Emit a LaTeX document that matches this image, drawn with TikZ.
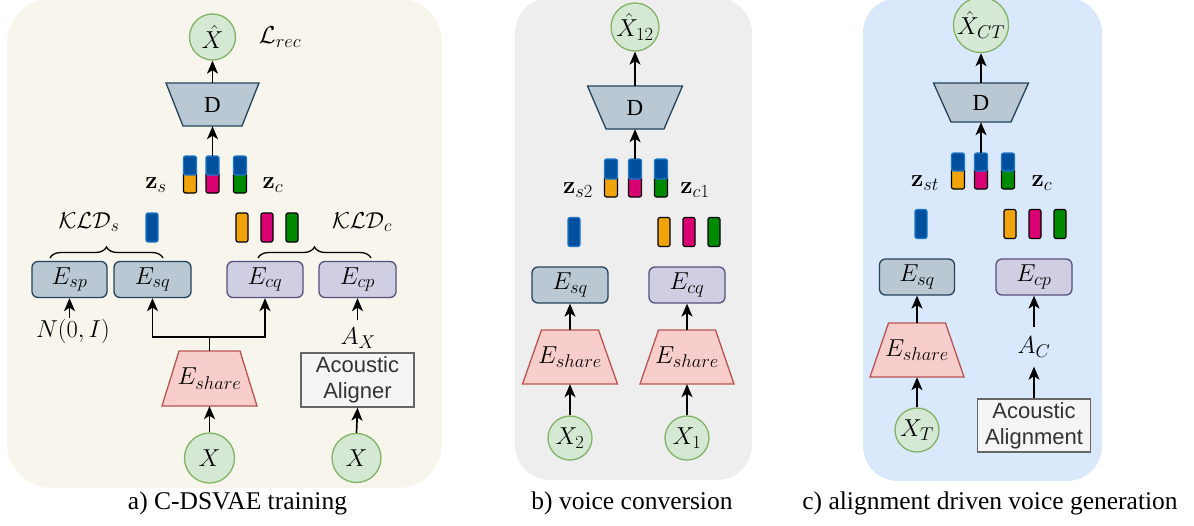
\RequirePackage{fix-cm}
\documentclass[tikz,border=0pt]{standalone}
\usepackage[no-math]{fontspec}
\setmainfont{Liberation Serif}
\newfontfamily\sansf{Liberation Sans}
\usetikzlibrary{arrows.meta,decorations.pathreplacing}
\DeclareMathSizes{24.5}{24.5}{18.5}{14}
\DeclareMathSizes{23}{23}{17.5}{13}
\definecolor{bga}{HTML}{F7F5EC}
\definecolor{bgb}{HTML}{EEEEEE}
\definecolor{bgc}{HTML}{DAE8FC}
\definecolor{gfill}{HTML}{D5E8D4}
\definecolor{gline}{HTML}{82B366}
\definecolor{sfill}{HTML}{BAC8D3}
\definecolor{sline}{HTML}{23445D}
\definecolor{pfill}{HTML}{D0CEE2}
\definecolor{pline}{HTML}{56517E}
\definecolor{rfill}{HTML}{F8CECC}
\definecolor{rline}{HTML}{B85450}
\definecolor{afill}{HTML}{F5F5F5}
\definecolor{aline}{HTML}{666666}
\definecolor{atext}{HTML}{333333}
\definecolor{zb}{HTML}{00509E}
\definecolor{zbs}{HTML}{1E78C8}
\definecolor{corange}{HTML}{F0A30A}
\definecolor{cmag}{HTML}{D80073}
\definecolor{cgreen}{HTML}{008A00}
\tikzset{
  mfont/.style={font=\fontsize{24.5}{28}\selectfont},
  arr/.style={-{Stealth[length=13pt,width=11pt,inset=3.5pt]}, line width=1.7pt},
  circ/.style={circle, draw=gline, fill=gfill, line width=1.3pt, inner sep=0pt, mfont},
  sbox/.style={draw=sline, fill=sfill, line width=1.3pt, rounded corners=6pt, minimum height=36pt, inner sep=0pt, mfont},
  pbox/.style={draw=pline, fill=pfill, line width=1.3pt, rounded corners=6pt, minimum height=36pt, inner sep=0pt, mfont},
  abox/.style={draw=aline, fill=afill, text=atext, line width=1.3pt, align=center, inner sep=0pt, minimum width=113pt, minimum height=54pt, font=\sansf\fontsize{22}{26}\selectfont},
  sbar/.style={rectangle, rounded corners=2pt, line width=1.2pt, minimum width=12pt, minimum height=29pt, inner sep=0pt},
  bluebar/.style={sbar, draw=zbs, fill=zb},
  colbar/.style={sbar, draw=black, fill=#1},
  lbl/.style={mfont, inner sep=1pt},
  brc/.style={decorate, decoration={brace, amplitude=11pt}, line width=1.3pt},
  captxt/.style={font=\fontsize{25.5}{30}\selectfont},
  panel/.style={rounded corners=#1pt}
}
% trapezoid: name, x, y, top width, bottom width, height, style, text
\newcommand{\trapnode}[8]{%
  \draw[#7] ({#2-#4/2},{#3-#6/2}) -- ({#2+#4/2},{#3-#6/2}) -- ({#2+#5/2},{#3+#6/2}) -- ({#2-#5/2},{#3+#6/2}) -- cycle;
  \node[minimum height=#6pt, inner sep=0pt, mfont] (#1) at (#2,#3) {#8};}
% concatenated bar: name (top), x, top, mid, bottom, colour
\newcommand{\catbar}[6]{%
  \draw[line width=1.2pt, draw=black, fill=#6, rounded corners=2pt] ({#2-6.5},{#4-3}) rectangle ({#2+6.5},#5);
  \draw[line width=1.2pt, draw=zbs, fill=zb, rounded corners=2pt] ({#2-6.5},#3) rectangle ({#2+6.5},#4);
  \coordinate (#1) at (#2,#3);}
\tikzset{dtrap/.style={draw=sline, fill=sfill, line width=1.3pt},
         etrap/.style={draw=rline, fill=rfill, line width=1.3pt}}
\begin{document}
\begin{tikzpicture}[x=1pt,y=-1pt]
\useasboundingbox (0,0) rectangle (1194,525);
% panels
\fill[bga, panel=45] (7,-2) rectangle (442,488);
\fill[bgb, panel=35] (515,-2) rectangle (752,480);
\fill[bgc, panel=35] (863,-2) rectangle (1102,481);

% ---------------- panel a ----------------
\node[circ, minimum size=46pt] (aXh) at (212.5,37) {$\hat{X}$};
\node[lbl] (aL) at (280,37) {$\mathcal{L}_{rec}$};
\trapnode{aD}{212.5}{104.5}{93}{59}{43}{dtrap}{\fontsize{23}{26}\selectfont D}
\catbar{ac1}{190}{156}{175}{193}{corange}
\catbar{ac2}{212.5}{156}{175}{193}{cmag}
\catbar{ac3}{240}{156}{175}{193}{cgreen}
\node[lbl] (azs) at (156,185) {$\mathbf{z}_s$};
\node[lbl] (azc) at (273,185) {$\mathbf{z}_c$};
\node[lbl, font=\fontsize{23}{26}\selectfont] (akls) at (89,222) {$\mathcal{KLD}_s$};
\node[lbl, font=\fontsize{23}{26}\selectfont] (aklc) at (362,222) {$\mathcal{KLD}_c$};
\node[bluebar] (asb) at (152,227.5) {};
\node[colbar=corange] (ab1) at (242,227.5) {};
\node[colbar=cmag] (ab2) at (267,227.5) {};
\node[colbar=cgreen] (ab3) at (292,227.5) {};
\node[sbox, minimum width=75pt] (aEsp) at (69.5,279.5) {$E_{sp}$};
\node[sbox, minimum width=77pt] (aEsq) at (152.5,279.5) {$E_{sq}$};
\node[pbox, minimum width=76pt] (aEcq) at (265,279.5) {$E_{cq}$};
\node[pbox, minimum width=77pt] (aEcp) at (357.5,279.5) {$E_{cp}$};
\draw[brc] (50,258) -- (163,258);
\draw[brc] (258,258) -- (371,258);
\node[lbl] (aN) at (73,331) {$N(0,I)$};
\trapnode{aEsh}{209.5}{378.5}{61}{95}{55}{etrap}{$E_{share}$}
\coordinate (aj) at (209.5,337);
\node[abox] (aAl) at (357.5,380) {Acoustic\\Aligner};
\node[lbl, inner sep=7pt] (aAX) at (358,338) {$A_X$};
\node[circ, minimum size=50pt] (aX) at (209.5,458) {$X$};
\node[circ, minimum size=49pt] (aXr) at (356.5,458) {$X$};
\draw[arr] (aD.north) -- (aXh.south);
\draw[arr] (ac2) -- (aD.south);
\draw[arr] (aN.north -| aEsp.south) -- (aEsp.south);
\draw[arr] (aEsh.north) -- (aj) -| (aEsq.south);
\draw[arr] (aj) -| (aEcq.south);
\draw[arr] (aX.north) -- (aEsh.south);
\draw[arr] (aXr.north) -- (aAl.south);
\draw[arr] (aAX.north -| aEcp.south) -- (aEcp.south);

% ---------------- panel b ----------------
\node[circ, minimum size=48pt] (bXh) at (635,27) {$\hat{X}_{12}$};
\trapnode{bD}{635}{107.5}{95}{58}{43}{dtrap}{\fontsize{23}{26}\selectfont D}
\catbar{bc1}{611}{159}{179}{197}{corange}
\catbar{bc2}{635}{159}{179}{197}{cmag}
\catbar{bc3}{661}{159}{179}{197}{cgreen}
\node[lbl] (bzs) at (578,190) {$\mathbf{z}_{s2}$};
\node[lbl] (bzc) at (695,190) {$\mathbf{z}_{c1}$};
\node[bluebar] (bsb) at (574,232) {};
\node[colbar=corange] (bb1) at (664,232) {};
\node[colbar=cmag] (bb2) at (689,232) {};
\node[colbar=cgreen] (bb3) at (714,232) {};
\node[sbox, minimum width=76pt] (bEsq) at (570,285) {$E_{sq}$};
\node[pbox, minimum width=76pt] (bEcq) at (687,285) {$E_{cq}$};
\trapnode{bEshL}{570}{357}{57}{95}{54}{etrap}{$E_{share}$}
\trapnode{bEshR}{687}{357}{57}{94}{54}{etrap}{$E_{share}$}
\node[circ, minimum size=44pt] (bX2) at (570,438) {$X_2$};
\node[circ, minimum size=44pt] (bX1) at (687,438) {$X_1$};
\draw[arr] (bD.north) -- (bXh.south);
\draw[arr] (bc2) -- (bD.south);
\draw[arr] (bEshL.north) -- (bEsq.south);
\draw[arr] (bEshR.north) -- (bEcq.south);
\draw[arr] (bX2.north) -- (bEshL.south);
\draw[arr] (bX1.north) -- (bEshR.south);

% ---------------- panel c ----------------
\node[circ, minimum size=48pt] (cXh) at (981,25) {$\hat{X}_{CT}$};
\trapnode{cD}{981}{102.5}{95}{60}{39}{dtrap}{\fontsize{23}{26}\selectfont D}
\catbar{cc1}{958}{153}{171}{189}{corange}
\catbar{cc2}{981}{153}{171}{189}{cmag}
\catbar{cc3}{1008}{153}{171}{189}{cgreen}
\node[lbl] (czs) at (925,183) {$\mathbf{z}_{st}$};
\node[lbl] (czc) at (1042,183) {$\mathbf{z}_{c}$};
\node[bluebar] (csb) at (921,224) {};
\node[colbar=corange] (cb1) at (1010,224) {};
\node[colbar=cmag] (cb2) at (1035,224) {};
\node[colbar=cgreen] (cb3) at (1060,224) {};
\node[sbox, minimum width=75pt] (cEsq) at (917,277) {$E_{sq}$};
\node[pbox, minimum width=76pt] (cEcp) at (1034,277) {$E_{cp}$};
\trapnode{cEsh}{917}{350}{57}{94}{54}{etrap}{$E_{share}$}
\node[circ, minimum size=44pt] (cXT) at (917,430) {$X_T$};
\node[lbl, inner sep=9pt] (cAC) at (1034,347) {$A_C$};
\node[abox, minimum height=53pt] (cAl) at (1034,425.5) {Acoustic\\Alignment};
\draw[arr] (cD.north) -- (cXh.south);
\draw[arr] (cc2) -- (cD.south);
\draw[arr] (cEsh.north) -- (cEsq.south);
\draw[arr] (cXT.north) -- (cEsh.south);
\draw[arr] (cAC.north) -- (cEcp.south);
\draw[arr] (cAl.north) -- (cAC.south);

% captions
\node[captxt] (capa) at (237.5,503) {a) C-DSVAE training};
\node[captxt] (capb) at (632,503) {b) voice conversion};
\node[captxt] (capc) at (990,503) {c) alignment driven voice generation};
\end{tikzpicture}
\end{document}
